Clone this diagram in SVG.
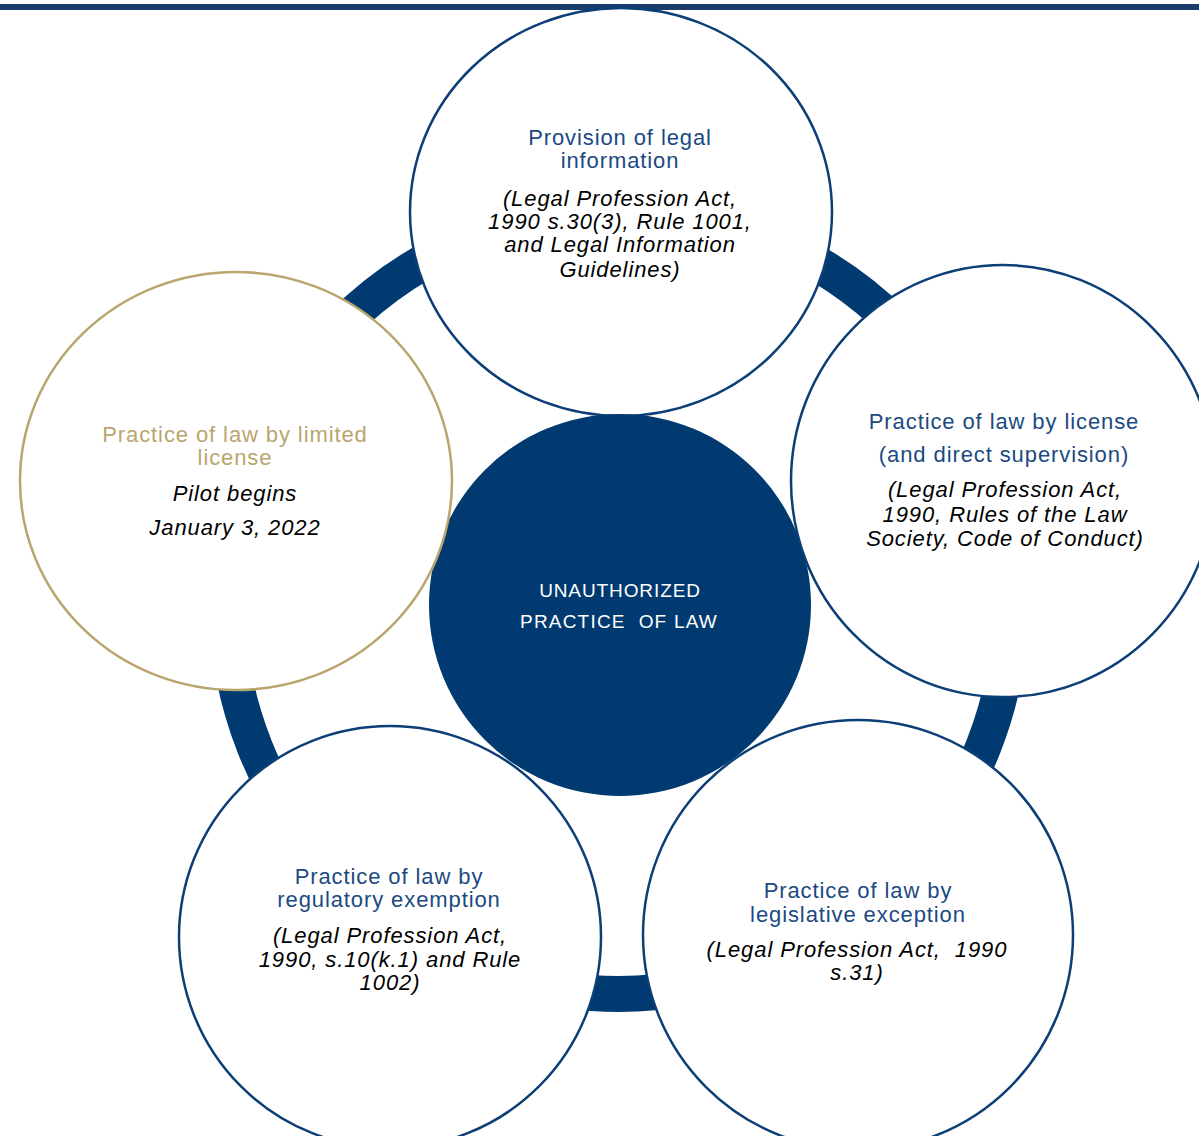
<svg xmlns="http://www.w3.org/2000/svg" width="1199" height="1136" viewBox="0 0 1199 1136">
<style>
.node{fill:#ffffff;stroke:#0b3f75;stroke-width:2.5}
.gold{stroke:#b9a66e}
.t{font-family:"Liberation Sans",Arial,sans-serif;font-size:22px;letter-spacing:0.9px;text-anchor:middle;fill:#1b4a82}
.tg{fill:#b9a66e}
.i{font-family:"Liberation Sans",Arial,sans-serif;font-size:22px;font-style:italic;letter-spacing:0.9px;text-anchor:middle;fill:#000000}
.c{font-family:"Liberation Sans",Arial,sans-serif;font-size:19px;letter-spacing:0.9px;text-anchor:middle;fill:#ffffff;white-space:pre}
</style>
<rect x="0" y="4" width="1199" height="6" fill="#1a3d6e"/>
<g id="connectors">
<circle cx="619" cy="602" r="392" fill="none" stroke="#003a70" stroke-width="36"/>
</g>
<g id="top">
<ellipse class="node" cx="621" cy="212" rx="211" ry="204"/>
<text class="t" x="620" y="145">Provision of legal</text>
<text class="t" x="620" y="168">information</text>
<text class="i" x="620" y="206">(Legal Profession Act,</text>
<text class="i" x="620" y="229">1990 s.30(3), Rule 1001,</text>
<text class="i" x="620" y="252">and Legal Information</text>
<text class="i" x="620" y="277">Guidelines)</text>
</g>
<g id="center">
<circle cx="620" cy="605" r="191" fill="#003a70"/>
<text class="c" x="620" y="597">UNAUTHORIZED</text>
<text class="c" x="619" y="628" style="letter-spacing:1.2px" xml:space="preserve">PRACTICE  OF LAW</text>
</g>
<g id="right">
<ellipse class="node" cx="1003" cy="481" rx="212" ry="216"/>
<text class="t" x="1004" y="429">Practice of law by license</text>
<text class="t" x="1004" y="462">(and direct supervision)</text>
<text class="i" x="1005" y="497">(Legal Profession Act,</text>
<text class="i" x="1005" y="522">1990, Rules of the Law</text>
<text class="i" x="1005" y="546">Society, Code of Conduct)</text>
</g>
<g id="left">
<ellipse class="node gold" cx="236" cy="481" rx="216" ry="209"/>
<text class="t tg" x="235" y="442">Practice of law by limited</text>
<text class="t tg" x="235" y="465">license</text>
<text class="i" x="235" y="501">Pilot begins</text>
<text class="i" x="235" y="535">January 3, 2022</text>
</g>
<g id="bottom-left">
<circle class="node" cx="390" cy="937" r="211"/>
<text class="t" x="389" y="884">Practice of law by</text>
<text class="t" x="389" y="907">regulatory exemption</text>
<text class="i" x="390" y="943">(Legal Profession Act,</text>
<text class="i" x="390" y="967">1990, s.10(k.1) and Rule</text>
<text class="i" x="390" y="990">1002)</text>
</g>
<g id="bottom-right">
<circle class="node" cx="858" cy="935" r="215"/>
<text class="t" x="858" y="898">Practice of law by</text>
<text class="t" x="858" y="922">legislative exception</text>
<text class="i" x="857" y="957" xml:space="preserve">(Legal Profession Act,  1990</text>
<text class="i" x="857" y="980">s.31)</text>
</g>
</svg>
